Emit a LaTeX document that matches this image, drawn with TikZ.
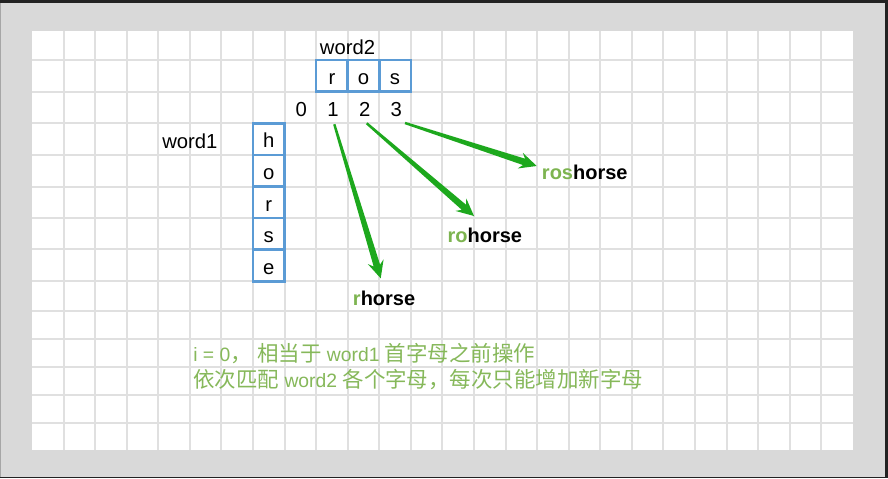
\documentclass[tikz,border=0pt]{standalone}
\usepackage{fontspec}
\setmainfont{Liberation Sans}
\newfontfamily\cjkf{Noto Sans CJK SC}
\usetikzlibrary{calc}
\definecolor{framegray}{HTML}{D9D9D9}
\definecolor{framedark}{HTML}{222222}
\definecolor{gridgray}{HTML}{E0E0E0}
\definecolor{boxblue}{HTML}{5B9BD5}
\definecolor{arrowgreen}{HTML}{1DA81D}
\definecolor{tgreen}{HTML}{7DB450}
\definecolor{notegreen}{HTML}{86B85A}
\newcommand\zh[1]{{\cjkf\fontsize{16.1}{18}\selectfont #1}}
\newcommand\taperarrow[2]{%
  \coordinate (ta-b) at ($(#2)!10pt!(#1)$);
  \coordinate (ta-w) at ($(#2)!13pt!(#1)$);
  \fill[arrowgreen] ($(#1)!0.9pt!90:(#2)$) -- ($(ta-b)!2.5pt!90:(#2)$) -- ($(ta-w)!6.2pt!90:(#2)$) -- (#2)
    -- ($(ta-w)!6.2pt!-90:(#2)$) -- ($(ta-b)!2.5pt!-90:(#2)$) -- ($(#1)!0.9pt!-90:(#2)$) -- cycle;
}
\tikzset{
  gridline/.style={draw=gridgray, line width=1.5pt},
  cellbox/.style={draw=boxblue, line width=1.9pt, minimum width=23.7pt, minimum height=23.7pt,
    inner sep=0pt, outer sep=0pt, text height=13.2pt, text depth=0pt, font=\fontsize{15.2}{18}\selectfont},
  lbl/.style={inner sep=0pt, font=\fontsize{15.2}{18}\selectfont},
  bold/.style={inner sep=0pt, font=\fontsize{15}{18}\selectfont\bfseries},
  cjkline/.style={inner sep=0pt, text=notegreen, font=\fontsize{14.5}{18}\selectfont},
}
\begin{document}
\begin{tikzpicture}[x=0.75pt,y=-0.75pt]
\useasboundingbox (0,0) rectangle (888,478);
% frame
\fill[framegray] (0,0) rectangle (888,478);
\fill[framedark] (0,0) rectangle (888,3);
\fill[framedark] (885,0) rectangle (888,478);
\fill[framedark] (0,477) rectangle (888,478);
\fill[gray!70] (0,3) rectangle (1,477);
% white sheet and grid
\fill[white] (32,31) rectangle (853,450);
\foreach \k in {0,...,24} \draw[gridline] ({round(63.5+31.575*\k)},31) -- ({round(63.5+31.575*\k)},450);
\foreach \yy in {60,92,123,155,187,218,249,281,311,339,367,395,423}
  \draw[gridline] (32,\yy) -- (853,\yy);
% word2
\node[lbl, anchor=base] (w2) at (347.5,55) {word2};
\node[cellbox] (c-r) at (331.9,75.85) {r};
\node[cellbox] (c-o) at (363.5,75.85) {o};
\node[cellbox] (c-s) at (395.0,75.85) {s};
% indices
\node[lbl, anchor=base] (n0) at (301.3,116.7) {0};
\node[lbl, anchor=base] (n1) at (333,116.7) {1};
\node[lbl, anchor=base] (n2) at (364.8,116.7) {2};
\node[lbl, anchor=base] (n3) at (396.2,116.7) {3};
% word1
\node[lbl, anchor=base west] (w1) at (162,148.3) {word1};
\node[cellbox] (h1) at (268.7,139.1) {h};
\node[cellbox] (h2) at (268.7,170.7) {o};
\node[cellbox] (h3) at (268.7,202.3) {r};
\node[cellbox] (h4) at (268.7,233.9) {s};
\node[cellbox] (h5) at (268.7,265.5) {e};
% results
\node[bold, anchor=base west] (t1) at (352.7,305) {\textcolor{tgreen}{r}horse};
\node[bold, anchor=base west] (t2) at (447.3,242.7) {\textcolor{tgreen}{ro}horse};
\node[bold, anchor=base west] (t3) at (541.7,179.3) {\textcolor{tgreen}{ros}horse};
% arrow ends
\coordinate (a1s) at ([shift={(1.3,7.6)}]n1.base);
\coordinate (a2s) at ([shift={(1.9,6.6)}]n2.base);
\coordinate (a3s) at ([shift={(8.8,6.3)}]n3.base);
\coordinate (a1t) at ([shift={(28,-26.7)}]t1.base west);
\coordinate (a2t) at ([shift={(26.7,-26.7)}]t2.base west);
\coordinate (a3t) at ([shift={(-5,-13.3)}]t3.base west);
\taperarrow{a1s}{a1t}
\taperarrow{a2s}{a2t}
\taperarrow{a3s}{a3t}
% notes
\node[cjkline, anchor=base west] (note1) at (193,361) {i = 0\zh{，} \zh{相当于} word1 \zh{首字母之前操作}};
\node[cjkline, anchor=base west] (note2) at (193,387.3) {\zh{依次匹配} word2 \zh{各个字母，每次只能增加新字母}};
\end{tikzpicture}
\end{document}
